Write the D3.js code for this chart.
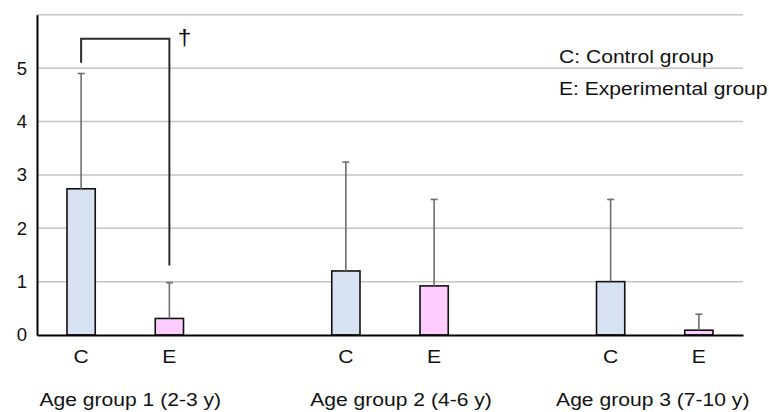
<!DOCTYPE html>
<html>
<head>
<meta charset="utf-8">
<script src="https://cdn.jsdelivr.net/npm/d3@7"></script>
<style>
  body { margin: 0; background: #fff; }
  text { font-family: "Liberation Sans", Arial, sans-serif; fill: #111; }
</style>
</head>
<body>
<script>
// chart values
var groups = ["Age group 1 (2-3 y)", "Age group 2 (4-6 y)", "Age group 3 (7-10 y)"];
var conditions = ["C", "E"];
var controlMean = [2.74, 1.20, 1.00];
var controlSD = [2.16, 2.04, 1.54];
var experimentalMean = [0.31, 0.92, 0.09];
var experimentalSD = [0.67, 1.62, 0.30];
var yTicks = [0, 1, 2, 3, 4, 5];
var gridValues = [1, 2, 3, 4, 5, 6];
var legendLines = ["C: Control group", "E: Experimental group"];
// significance bracket for group 1 (top, left end, right end) and its mark
var bracket = [5.55, 5.1, 1.3];
var bracketMark = "\u2020";

var width = 769, height = 412;
var plotLeft = 37, plotRight = 743, plotTop = 14.8, plotBottom = 335;
var stretch = 1.14; // text in the picture is a bit wider than tall

var svg = d3.select("body").append("svg")
    .attr("width", width)
    .attr("height", height);

// 8 slots: C, E, gap for each group (last gap dropped)
var slots = [];
groups.forEach(function(g, i){
  slots.push(i + "C");
  slots.push(i + "E");
  if (i < groups.length - 1) slots.push(i + "gap");
});

var x = d3.scaleBand()
    .domain(slots)
    .range([plotLeft, plotRight])
    .paddingInner(0.68)
    .paddingOuter(0.34);

var y = d3.scaleLinear()
    .domain([0, 6])
    .range([plotBottom, plotTop]);

// bars data
var bars = [];
groups.forEach(function(g, i){
  bars.push({slot: i + "C", cond: "C", mean: controlMean[i], sd: controlSD[i]});
  bars.push({slot: i + "E", cond: "E", mean: experimentalMean[i], sd: experimentalSD[i]});
});

// gridlines
svg.append("g").selectAll("line")
  .data(gridValues)
  .enter().append("line")
    .attr("x1", plotLeft)
    .attr("x2", plotRight)
    .attr("y1", function(d){ return y(d); })
    .attr("y2", function(d){ return y(d); })
    .attr("stroke", "#c4c4c4")
    .attr("stroke-width", 1.5);

// y axis
var yAxis = svg.append("g")
    .attr("transform", "translate(" + plotLeft + ",0)")
    .call(d3.axisLeft(y).tickValues(yTicks).tickSize(0).tickPadding(10).tickFormat(d3.format("d")));
yAxis.select(".domain").attr("stroke", "#000").attr("stroke-width", 2);
yAxis.selectAll("text")
    .attr("font-size", 18.5)
    .attr("fill", "#111")
    .attr("font-family", "Liberation Sans, Arial, sans-serif");

// bars
var colors = {C: "#d9e2f3", E: "#ffccff"};
svg.append("g").selectAll("rect")
  .data(bars)
  .enter().append("rect")
    .attr("x", function(d){ return x(d.slot); })
    .attr("y", function(d){ return y(d.mean); })
    .attr("width", x.bandwidth())
    .attr("height", function(d){ return y(0) - y(d.mean); })
    .attr("fill", function(d){ return colors[d.cond]; })
    .attr("stroke", "#111")
    .attr("stroke-width", 1.6);

// error bars (upper only)
var err = svg.append("g").attr("stroke", "#6e6e6e").attr("stroke-width", 1.6);
bars.forEach(function(d){
  var cx = x(d.slot) + x.bandwidth() / 2;
  err.append("line")
    .attr("x1", cx).attr("x2", cx)
    .attr("y1", y(d.mean)).attr("y2", y(d.mean + d.sd));
  err.append("line")
    .attr("x1", cx - 3.5).attr("x2", cx + 3.5)
    .attr("y1", y(d.mean + d.sd)).attr("y2", y(d.mean + d.sd));
});

// x axis
var xAxis = svg.append("g")
    .attr("transform", "translate(0," + plotBottom + ")")
    .call(d3.axisBottom(x).tickSize(0).tickPadding(14.5)
      .tickFormat(function(d){ return d.indexOf("gap") >= 0 ? "" : d.slice(-1); }));
xAxis.select(".domain").attr("stroke", "#000").attr("stroke-width", 2);
xAxis.selectAll("text")
    .attr("font-size", 18.5)
    .attr("fill", "#111")
    .attr("font-family", "Liberation Sans, Arial, sans-serif")
    .attr("transform", "scale(" + stretch + ",1)");

// group labels
var labelShift = [5, 11, -2];
svg.append("g").selectAll("text")
  .data(groups)
  .enter().append("text")
    .attr("text-anchor", "middle")
    .attr("font-size", 18.5)
    .attr("transform", function(d, i){
      var cx = (x(i + "C") + x(i + "E") + x.bandwidth()) / 2 + labelShift[i];
      return "translate(" + cx + ",406) scale(" + stretch + ",1)";
    })
    .text(function(d){ return d; });

// legend
svg.append("g").selectAll("text")
  .data(legendLines)
  .enter().append("text")
    .attr("font-size", 18.5)
    .attr("transform", function(d, i){
      return "translate(559," + (63 + i * 32) + ") scale(" + stretch + ",1)";
    })
    .text(function(d){ return d; });

// significance bracket between C and E of group 1
var bx1 = x("0C") + x.bandwidth() / 2;
var bx2 = x("0E") + x.bandwidth() / 2;
svg.append("path")
    .attr("d", "M" + bx1 + "," + y(bracket[1]) + "V" + y(bracket[0]) + "H" + bx2 + "V" + y(bracket[2]))
    .attr("fill", "none")
    .attr("stroke", "#2a2a2a")
    .attr("stroke-width", 2);
svg.append("text")
    .attr("font-size", 22)
    .attr("transform", "translate(" + (bx2 + 8) + "," + (y(bracket[0]) + 6) + ") scale(" + stretch + ",1)")
    .text(bracketMark);
</script>
</body>
</html>
